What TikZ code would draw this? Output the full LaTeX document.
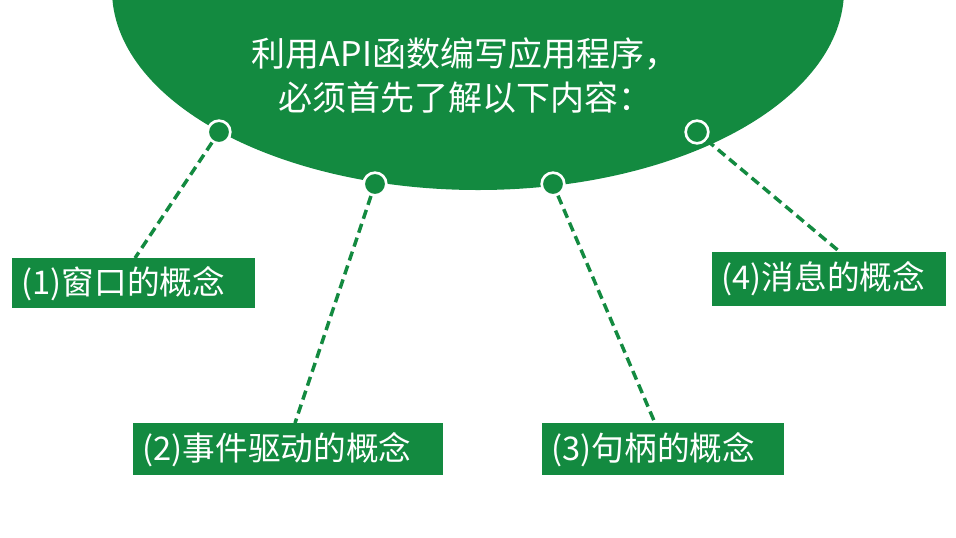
\documentclass[tikz,border=0pt]{standalone}
\usepackage{fontspec}
\setmainfont{Noto Sans CJK SC}
\definecolor{gr}{HTML}{138A40}
\begin{document}
\begin{tikzpicture}[x=0.75pt,y=-0.75pt,
  dot/.style={circle,fill=gr,draw=white,line width=2pt,minimum size=17pt,inner sep=0pt},
  lbl/.style={fill=gr,text=white,font=\fontsize{24.5}{28}\selectfont,anchor=north west,inner sep=0pt},
  conn/.style={gr,line width=2.6pt,dash pattern=on 7pt off 4pt}]
\useasboundingbox (0,0) rectangle (956,537);
\clip (0,0) rectangle (956,537);
\fill[gr] (478,-10) ellipse [x radius=366, y radius=200];
\node[text=white,align=center,font=\fontsize{25.5}{33}\selectfont] (t) at (465,76) {利用API函数编写应用程序，\\必须首先了解以下内容：};
\node[dot] (d1) at (219,132) {};
\node[dot] (d2) at (375,184) {};
\node[dot] (d3) at (553,184) {};
\node[dot] (d4) at (697,132) {};
\node[lbl,minimum width=182pt,minimum height=37.5pt,text width=178pt,align=left] (b1) at (12,258) {\hspace*{5pt}(1)窗口的概念};
\node[lbl,minimum width=232pt,minimum height=39pt,text width=228pt,align=left] (b2) at (133,423) {\hspace*{5pt}(2)事件驱动的概念};
\node[lbl,minimum width=181pt,minimum height=39pt,text width=177pt,align=left] (b3) at (542,423) {\hspace*{5pt}(3)句柄的概念};
\node[lbl,minimum width=175pt,minimum height=40pt,text width=171pt,align=left] (b4) at (712,252) {\hspace*{5pt}(4)消息的概念};
\coordinate (e1) at (135,258);
\coordinate (e2) at (295,423);
\coordinate (e3) at (655,423);
\coordinate (e4) at (840,252);
\draw[conn] (d1) -- (e1);
\draw[conn] (d2) -- (e2);
\draw[conn] (d3) -- (e3);
\draw[conn] (d4) -- (e4);
\end{tikzpicture}
\end{document}
